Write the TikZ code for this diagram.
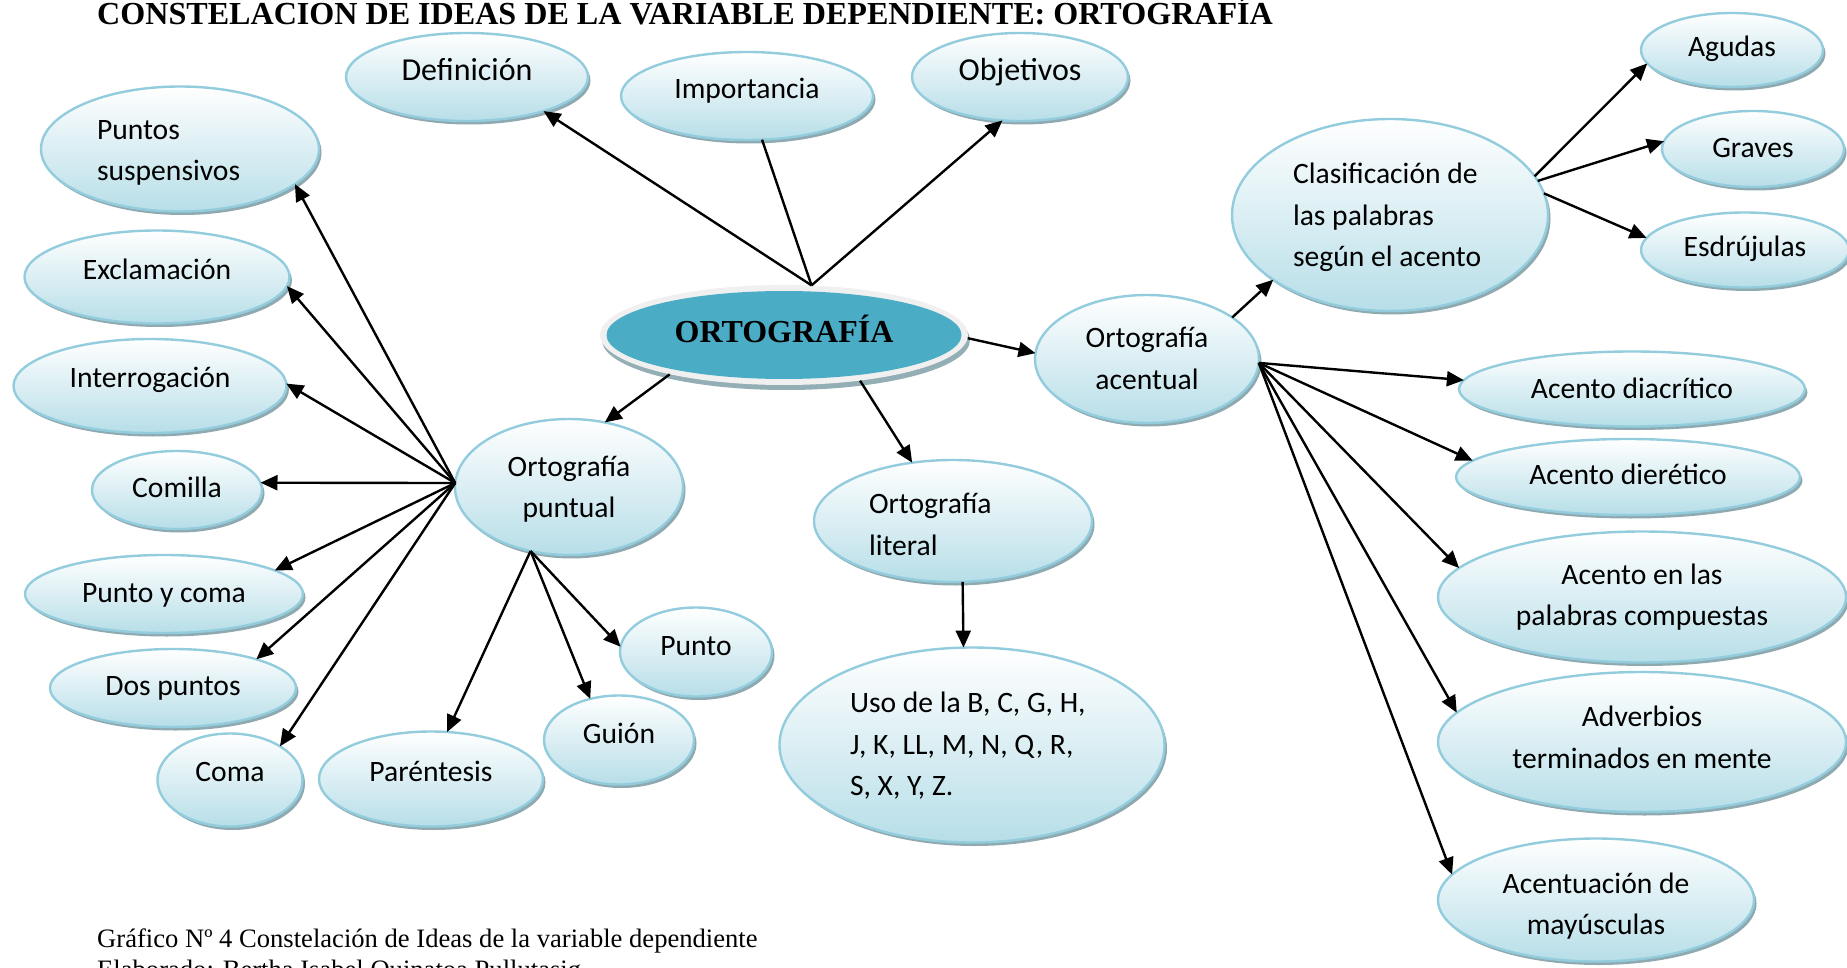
\documentclass[tikz,border=0pt]{standalone}
\usepackage{fontspec}
\setmainfont{Carlito}
\newfontfamily\serifr{Liberation Serif}
\usetikzlibrary{shapes.geometric,arrows.meta,shadows}
\definecolor{bubline}{HTML}{93CDDD}
\definecolor{bubfill}{HTML}{B7DEE8}
\definecolor{bubshadow}{HTML}{8FA9B1}
\definecolor{cblue}{HTML}{4BACC6}
\definecolor{ringgray}{HTML}{F0F0F0}
\definecolor{ringshadow}{HTML}{94AEB6}
\newcommand\bubfont{\fontsize{29.6}{41.5}\selectfont}
\newcommand\bigbubfont{\fontsize{32}{41.5}\selectfont}
\newcommand\oneline[1]{\mbox{#1}}
\tikzset{
  bub/.style={ellipse, draw=bubline, line width=2.4pt, top color=white, bottom color=bubfill,
    inner sep=0pt, outer sep=0pt, font=\bubfont, align=center,
    drop shadow={shadow xshift=2.5pt, shadow yshift=-3.5pt, fill=bubshadow, opacity=1}},
  tb/.style={text height=20pt, text depth=#1pt},
  lbub/.style={align=flush left, text width=#1pt},
  cbub/.style={align=flush center, text width=#1pt},
  conn/.style={line width=2.4pt, -{Triangle[length=17pt,width=15pt]}},
  plainline/.style={line width=2.4pt},
  captxt/.style={anchor=base west, inner sep=0pt, font=\serifr\fontsize{26.6}{30}\selectfont}
}
\begin{document}
\begin{tikzpicture}[x=1pt,y=-1pt]
\fill[white] (0,0) rectangle (1847,968);
\useasboundingbox (0,0) rectangle (1847,968);

% title and caption
\node[anchor=base west, inner sep=0pt, font=\serifr\bfseries\fontsize{32.1}{36}\selectfont] (title) at (97,25) {CONSTELACION DE IDEAS DE LA VARIABLE DEPENDIENTE: ORTOGRAFÍA};
\node[captxt] (cap1) at (97,947) {Gráfico Nº 4 Constelación de Ideas de la variable dependiente};
\node[captxt] (cap2) at (97,978) {Elaborado: Bertha Isabel Quinatoa Pullutasig};

% central node
\node[ellipse, fill=ringgray, minimum width=368, minimum height=100, inner sep=0pt,
  drop shadow={shadow xshift=2pt, shadow yshift=-5pt, fill=ringshadow, opacity=1},
  path picture={\fill[cblue] (path picture bounding box.center) ellipse [x radius=177.5pt, y radius=44pt];},
  font=\serifr\bfseries\fontsize{32}{36}\selectfont, text height=14pt, text depth=0pt] (central) at (784,335) {ORTOGRAFÍA};

% top
\node[bub, tb=12.6, font=\bigbubfont, minimum width=242, minimum height=88] (def) at (467,77) {Definición};
\node[bub, tb=14, minimum width=252, minimum height=88] (imp) at (747,96) {Importancia};
\node[bub, tb=13.6, font=\bigbubfont, minimum width=216, minimum height=88] (obj) at (1020,77) {Objetivos};

% left group
\node[bub, tb=39.8, lbub=166, minimum width=278, minimum height=125] (ps) at (180,149) {\oneline{Puntos}\\\oneline{suspensivos}};
\node[bub, tb=15.4, minimum width=265, minimum height=93] (excl) at (157,277) {Exclamación};
\node[bub, tb=16.8, minimum width=273, minimum height=94] (interr) at (150,386) {Interrogación};
\node[bub, tb=5.6, minimum width=170, minimum height=78] (comilla) at (177,490) {Comilla};
\node[bub, tb=4, minimum width=278, minimum height=78] (pyc) at (164,594) {Punto y coma};
\node[bub, tb=5.8, minimum width=246, minimum height=78] (dosp) at (173,688) {Dos puntos};
\node[bub, tb=17.8, minimum width=145, minimum height=93] (coma) at (230,780) {Coma};
\node[bub, tb=15.8, minimum width=224, minimum height=95] (par) at (431,779) {Paréntesis};
\node[bub, tb=13.2, minimum width=150, minimum height=89] (guion) at (619,740) {Guión};
\node[bub, tb=14, minimum width=152, minimum height=89] (punto) at (696,652) {Punto};
\node[bub, tb=42, cbub=140, minimum width=228, minimum height=136] (puntual) at (569,487) {\oneline{Ortografía}\\\oneline{puntual}};

% middle
\node[bub, tb=34.6, lbub=168, minimum width=278, minimum height=122] (literal) at (953,521) {\oneline{Ortografía}\\\oneline{literal}};
\node[bub, tb=84.4, lbub=244, minimum width=385, minimum height=195] (uso) at (972,745) {\oneline{Uso de la B, C, G, H,}\\\oneline{J, K, LL, M, N, Q, R,}\\\oneline{S, X, Y, Z.}};

% right group
\node[bub, tb=42.8, cbub=140, minimum width=224, minimum height=128] (acentual) at (1147,359) {\oneline{Ortografía}\\\oneline{acentual}};
\node[bub, tb=82.4, lbub=194, minimum width=316, minimum height=192] (clasif) at (1390,215) {\oneline{Clasificación de}\\\oneline{las palabras}\\\oneline{según el acento}};
\node[bub, tb=6.8, minimum width=182, minimum height=74] (agudas) at (1732,50) {Agudas};
\node[bub, tb=2.2, minimum width=182, minimum height=76] (graves) at (1753,149) {Graves};
\node[bub, tb=6.2, minimum width=208, minimum height=75] (esdr) at (1745,250) {Esdrújulas};
\node[bub, tb=1.6, minimum width=346, minimum height=75] (diacr) at (1632,389) {Acento diacrítico};
\node[bub, tb=5.6, minimum width=344, minimum height=76] (dieret) at (1628,477) {Acento dierético};
\node[bub, tb=45.2, cbub=262, minimum width=408, minimum height=131] (comp) at (1642,597) {\oneline{Acento en las}\\\oneline{palabras compuestas}};
\node[bub, tb=50.2, cbub=264, minimum width=408, minimum height=140] (adv) at (1642,742) {\oneline{Adverbios}\\\oneline{terminados en mente}};
\node[bub, tb=34, cbub=200, minimum width=316, minimum height=123] (may) at (1596,900) {\oneline{Acentuación de}\\\oneline{mayúsculas}};

% connectors from central
\draw[conn] (central.61) -- (def.-24);
\draw[plainline] (central.61) -- (imp.-71);
\draw[conn] (central.61) -- (obj.-112);
\draw[conn] (central.-1) -- (acentual.177);
\draw[conn] (central.-161) -- (puntual.61);
\draw[conn] (central.-31) -- (literal.125);
\draw[conn] (literal.-81) -- (uso.95);

% puntual fan
\draw[conn] (puntual.178) -- (ps.-17);
\draw[conn] (puntual.178) -- (excl.-4);
\draw[conn] (puntual.178) -- (interr.1);
\draw[conn] (puntual.178) -- (comilla.5);
\draw[conn] (puntual.178) -- (pyc.12);
\draw[conn] (puntual.178) -- (dosp.19);
\draw[conn] (puntual.178) -- (coma.34);
\draw[conn] (puntual.-121) -- (par.71);
\draw[conn] (puntual.-121) -- (guion.125);
\draw[conn] (puntual.-121) -- (punto.176);

% acentual fan
\draw[conn] (acentual.26) -- (clasif.-151);
\draw[conn] (acentual.-2) -- (diacr.177);
\draw[conn] (acentual.-2) -- (dieret.174);
\draw[conn] (acentual.-2) -- (comp.171);
\draw[conn] (acentual.-2) -- (adv.171);
\draw[conn] (acentual.-2) -- (may.170);

% clasificacion fan
\draw[conn] (clasif.15) -- (agudas.-171);
\draw[conn] (clasif.13) -- (graves.175);
\draw[conn] (clasif.8) -- (esdr.173);
\end{tikzpicture}
\end{document}
